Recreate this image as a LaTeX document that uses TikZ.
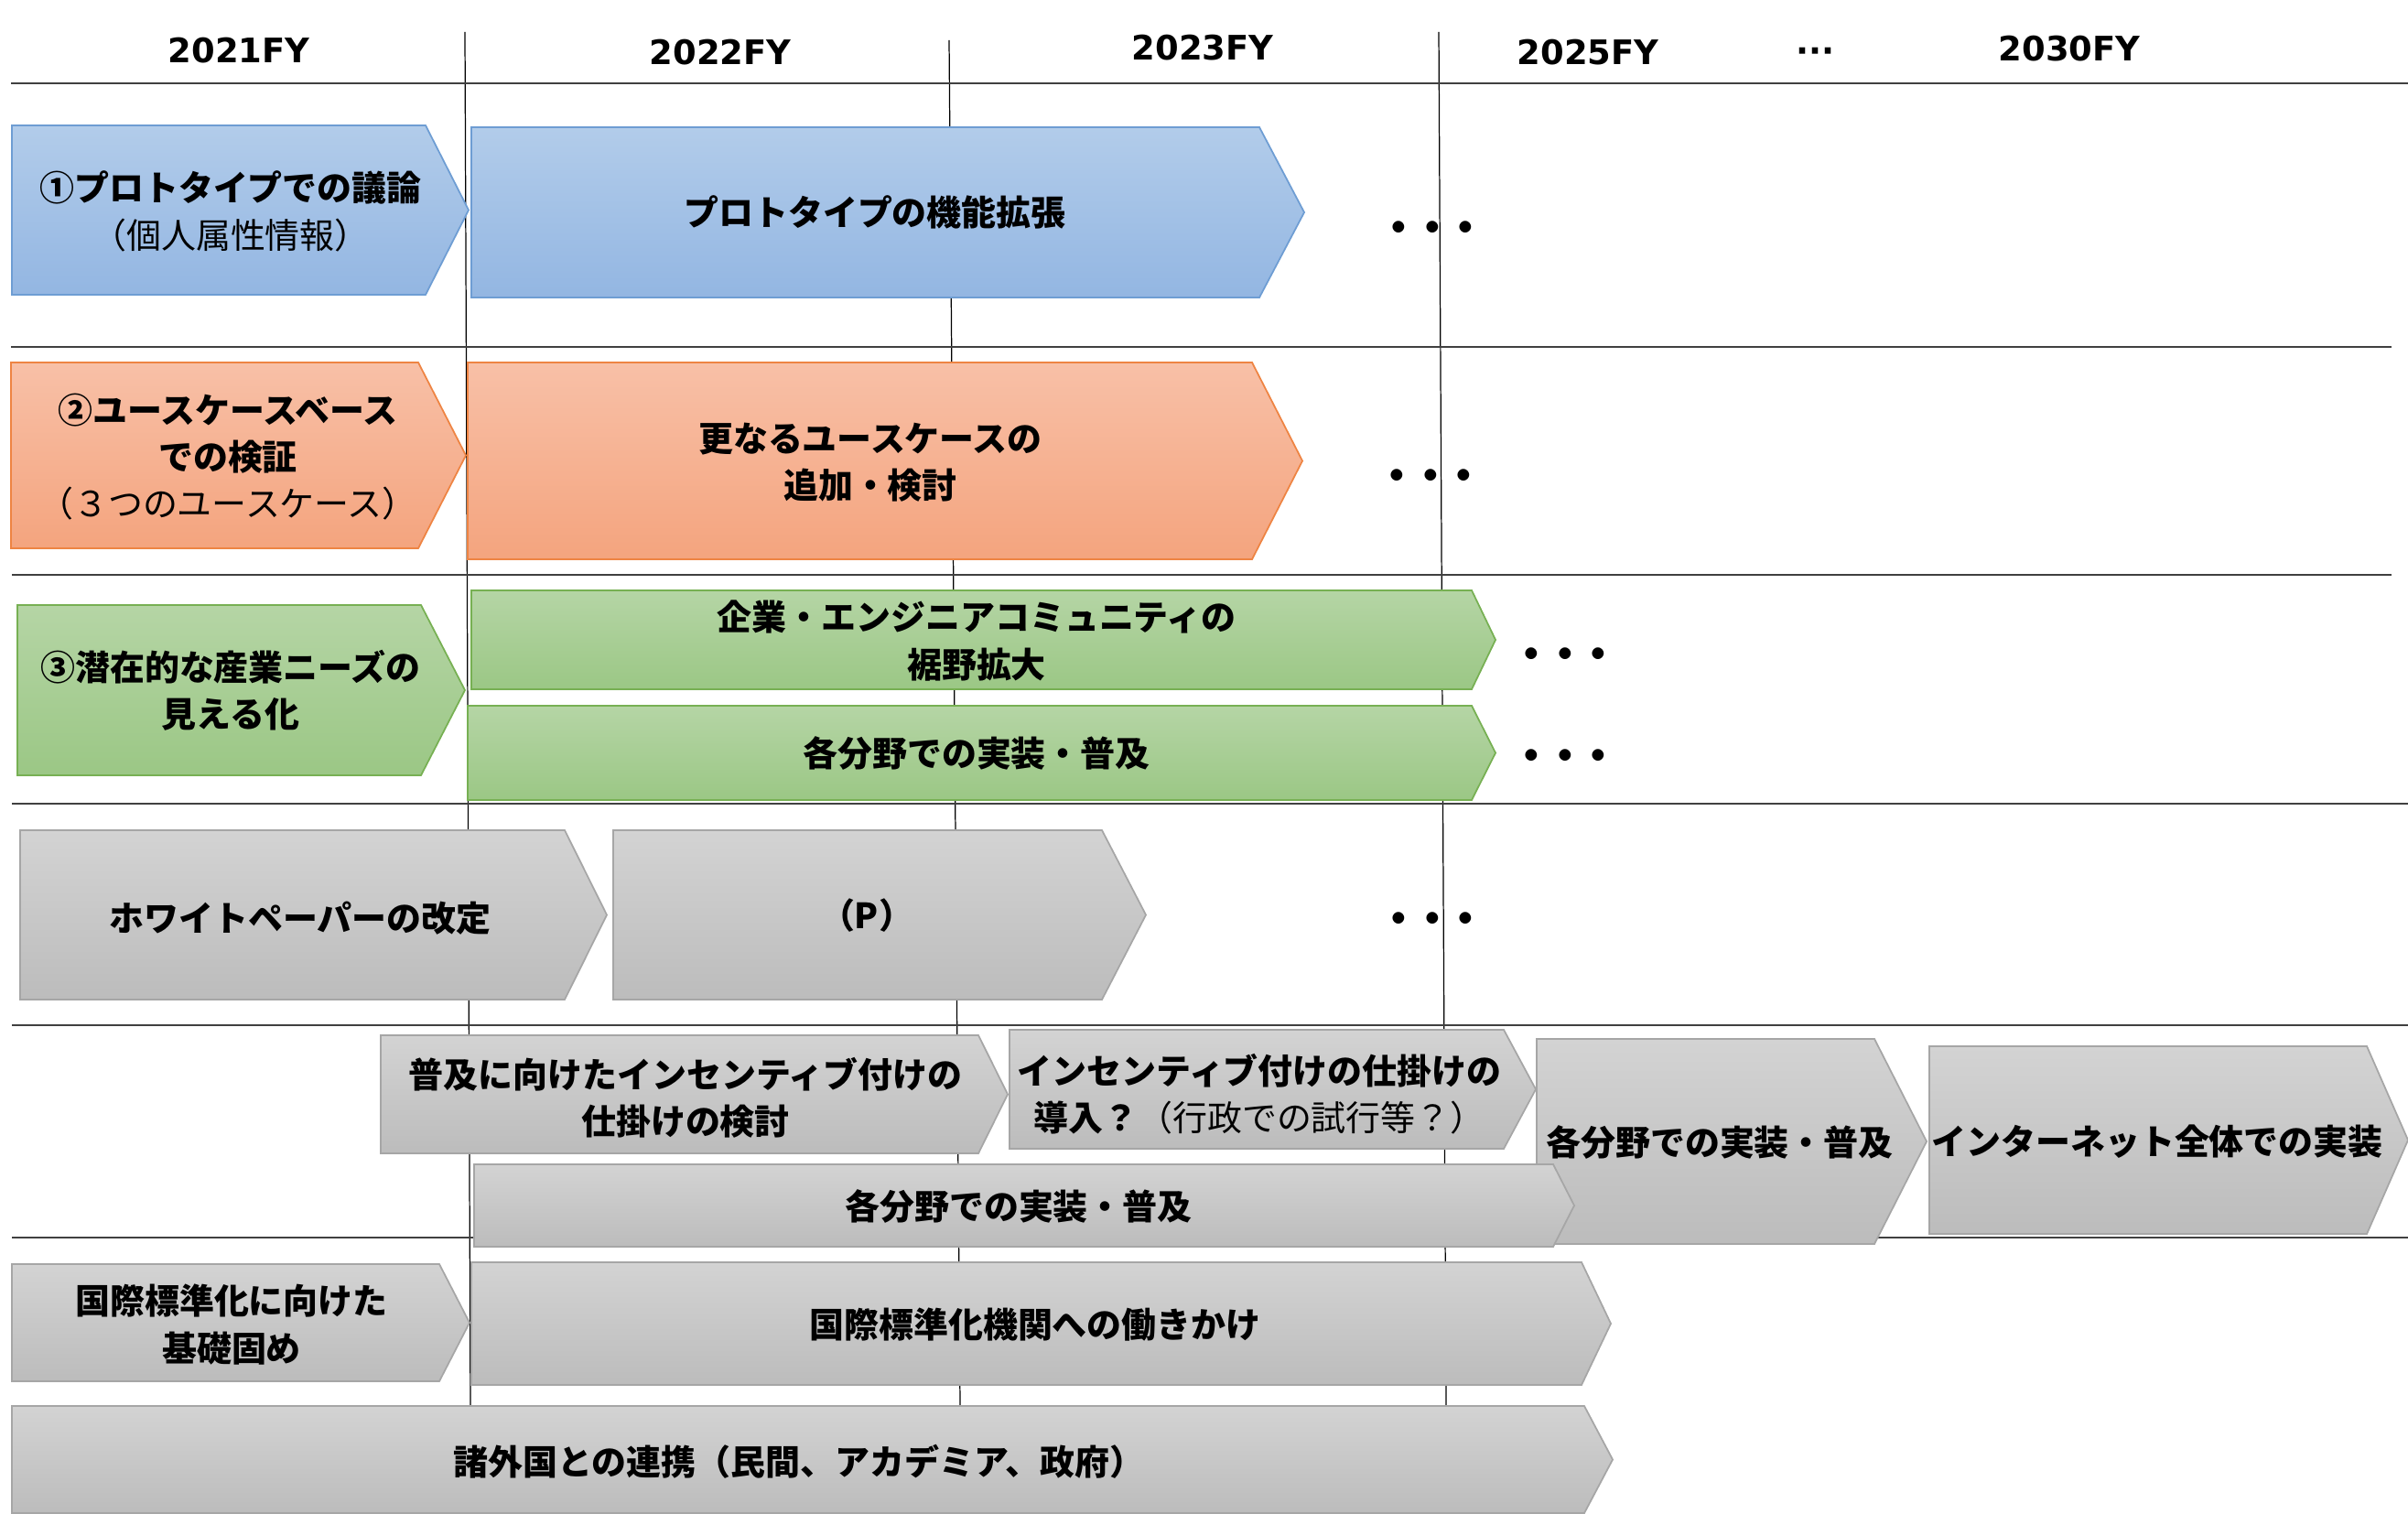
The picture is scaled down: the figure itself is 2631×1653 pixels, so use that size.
\documentclass[tikz,border=0pt]{standalone}
\usepackage{fontspec}
\usepackage{tikz}
\usetikzlibrary{calc}
\newfontfamily\jpfont{Noto Sans CJK JP}
\newfontfamily\yrfont{DejaVu Sans}
\definecolor{bluetop}{HTML}{B2CCEA}
\definecolor{bluebot}{HTML}{93B6E2}
\definecolor{blueedge}{HTML}{6E9DD3}
\definecolor{orgtop}{HTML}{F8C0A7}
\definecolor{orgbot}{HTML}{F4A47E}
\definecolor{orgedge}{HTML}{EE8443}
\definecolor{grntop}{HTML}{B5D5A5}
\definecolor{grnbot}{HTML}{9BC785}
\definecolor{grnedge}{HTML}{77B053}
\definecolor{gratop}{HTML}{D3D3D3}
\definecolor{grabot}{HTML}{BCBCBC}
\definecolor{graedge}{HTML}{A6A6A6}
\tikzset{
  bluebox/.style={draw=blueedge,line width=0.5pt,top color=bluetop,bottom color=bluebot},
  orgbox/.style={draw=orgedge,line width=0.5pt,top color=orgtop,bottom color=orgbot},
  grnbox/.style={draw=grnedge,line width=0.5pt,top color=grntop,bottom color=grnbot},
  grabox/.style={draw=graedge,line width=0.5pt,top color=gratop,bottom color=grabot},
  lbl/.style={font=\jpfont\bfseries\fontsize{10.8}{14.6}\selectfont,align=center,inner sep=0pt},
  etc/.style={font=\jpfont\bfseries\fontsize{13}{14}\selectfont,inner sep=0pt},
  yr/.style={font=\yrfont\bfseries\fontsize{10.5}{12}\selectfont,inner sep=0pt},
  hline/.style={line width=0.6pt,color=black!75},
  vline/.style={line width=0.35pt,color=black}
}
% chevron: style, name, left, top, right, bottom, tip
\newcommand{\chev}[7]{%
  \path[#1] (#3,#4) -- (#5,#4) -- (#7,{(#4+#6)/2}) -- (#5,#6) -- (#3,#6) -- cycle;
  \coordinate (#2) at ({(#3+#5)/2},{(#4+#6)/2});}
\newcommand{\etcdots}{・\hspace{-0.2em}・\hspace{-0.2em}・}
\begin{document}
\begin{tikzpicture}[x=0.1mm,y=-0.1mm,line join=miter]
\useasboundingbox (0,0) rectangle (2631,1653);
% year header
\node[yr] (y21) at (261,55) {2021FY};
\node[yr] (y22) at (787,57) {2022FY};
\node[yr] (y23) at (1314,52) {2023FY};
\node[yr] (y25) at (1735,57) {2025FY};
\node[yr] (ydots) at (1983,60) {···};
\node[yr] (y30) at (2261,53) {2030FY};
% grid lines
\draw[vline] (508,35) -- (514,1536);
\draw[vline] (1037,44) -- (1049,1536);
\draw[vline] (1572,35) -- (1580,1536);
\draw[hline] (12,91) -- (2631,91);
\draw[hline] (12,379) -- (2613,379);
\draw[hline] (13,628) -- (2613,628);
\draw[hline] (13,878) -- (2631,878);
\draw[hline] (13,1120) -- (2631,1120);
\draw[hline] (13,1352) -- (2631,1352);
% row 1
\chev{bluebox}{b1}{13}{137}{465}{322}{512}
\chev{bluebox}{b2}{515}{139}{1376}{325}{1425}
\node[lbl] (t-b1) at (252,231) {①プロトタイプでの議論\\{\mdseries （個人属性情報）}};
\node[lbl] (t-b2) at (956,232) {プロトタイプの機能拡張};
\node[etc] (d1) at (1565,254) {\etcdots};
% row 2
\chev{orgbox}{o1}{12}{396}{457}{599}{509}
\chev{orgbox}{o2}{511}{396}{1368}{611}{1423}
\node[lbl] (t-o1) at (249,499) {②ユースケースベース\\での検証\\{\mdseries （３つのユースケース）}};
\node[lbl] (t-o2) at (951,505) {更なるユースケースの\\追加・検討};
\node[etc] (d2) at (1563,525) {\etcdots};
% row 3
\chev{grnbox}{g1}{19}{661}{460}{847}{508}
\chev{grnbox}{g2}{515}{645}{1608}{753}{1634}
\chev{grnbox}{g3}{511}{771}{1608}{874}{1634}
\node[lbl] (t-g1) at (252,754) {③潜在的な産業ニーズの\\見える化};
\node[lbl] (t-g2) at (1067,700) {企業・エンジニアコミュニティの\\裾野拡大};
\node[lbl] (t-g3) at (1067,823) {各分野での実装・普及};
\node[etc] (d3) at (1710,720) {\etcdots};
\node[etc] (d4) at (1710,831) {\etcdots};
% row 4
\chev{grabox}{w1}{22}{907}{617}{1092}{663}
\chev{grabox}{w2}{670}{907}{1204}{1092}{1252}
\node[lbl] (t-w1) at (328,1003) {ホワイトペーパーの改定};
\node[lbl] (t-w2) at (947,1000) {（P）};
\node[etc] (d5) at (1565,1009) {\etcdots};
% row 5
\chev{grabox}{i1}{416}{1131}{1069}{1260}{1101}
\chev{grabox}{i2}{1103}{1125}{1643}{1255}{1678}
\chev{grabox}{i4}{1679}{1135}{2048}{1359}{2105}
\chev{grabox}{i5}{2108}{1143}{2586}{1348}{2631}
\chev{grabox}{i3}{518}{1272}{1697}{1362}{1720}
\node[lbl] (t-i1) at (749,1199) {普及に向けたインセンティブ付けの\\仕掛けの検討};
\node[lbl] (t-i2) at (1376,1195) {インセンティブ付けの仕掛けの\\導入？{\mdseries （行政での試行等？）}};
\node[lbl] (t-i3) at (1113,1318) {各分野での実装・普及};
\node[lbl] (t-i4) at (1879,1248) {各分野での実装・普及};
\node[lbl] (t-i5) at (2357,1247) {インターネット全体での実装};
% row 6
\chev{grabox}{s1}{13}{1381}{480}{1509}{513}
\chev{grabox}{s2}{515}{1379}{1728}{1513}{1760}
\chev{grabox}{s3}{13}{1536}{1731}{1653}{1762}
\node[lbl] (t-s1) at (253,1447) {国際標準化に向けた\\基礎固め};
\node[lbl] (t-s2) at (1131,1447) {国際標準化機関への働きかけ};
\node[lbl] (t-s3) at (873,1597) {諸外国との連携（民間、アカデミア、政府）};
\end{tikzpicture}
\end{document}
